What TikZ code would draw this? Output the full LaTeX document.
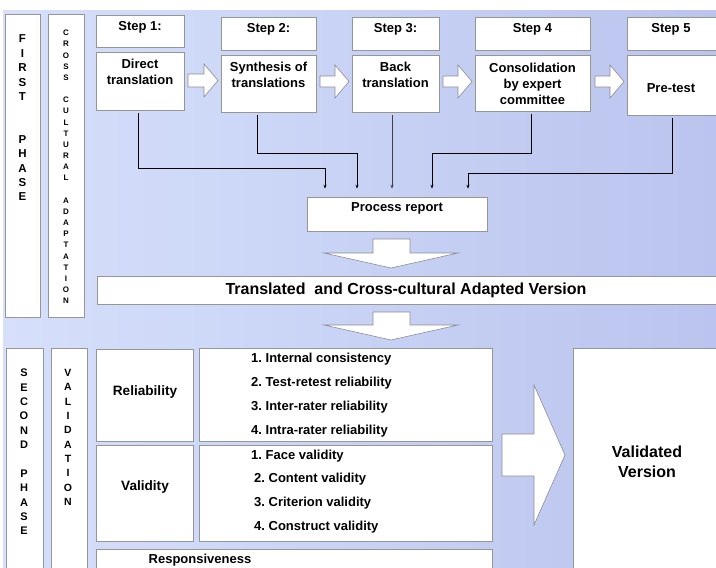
\documentclass[tikz,border=0pt]{standalone}
\usepackage{fontspec}
\setmainfont{Liberation Sans}
\frenchspacing
\usetikzlibrary{fit,arrows.meta}
\definecolor{bgL}{RGB}{214,224,251}
\definecolor{bgR}{RGB}{186,196,238}
\definecolor{boxgray}{RGB}{150,150,150}
\definecolor{arrgray}{RGB}{140,140,150}
\tikzset{
  box/.style={draw=boxgray, fill=white, line width=0.7pt, inner sep=0pt},
  txt/.style={font=\bfseries\fontsize{13}{16}\selectfont, align=center, inner sep=0pt},
  conn/.style={draw=black, line width=0.8pt, -{Stealth[length=4pt,width=3pt]}, shorten <=3pt, shorten >=8pt},
  barrow/.style={draw=arrgray, fill=white, line width=0.6pt, line join=miter}
}
\begin{document}
\begin{tikzpicture}[x=1pt,y=-1pt]
\useasboundingbox (0,0) rectangle (716,568);
\fill[white] (0,0) rectangle (716,568);
\shade[left color=bgL, right color=bgR] (3,10) rectangle (716,568);

% ---------- first phase ----------
\node[box, fit={(5,14) (40,317)}] (first) {};
\node[box, fit={(48,14) (84,317)}] (cross) {};
\node[box, fit={(96,15) (184,47)}] (step1) {};
\node[box, fit={(96,52) (184,110)}] (direct) {};
\node[box, fit={(221,17) (316,50)}] (step2) {};
\node[box, fit={(221,55) (316,112)}] (syn) {};
\node[box, fit={(352,17) (439,50)}] (step3) {};
\node[box, fit={(352,55) (439,112)}] (back) {};
\node[box, fit={(475,17) (590,50)}] (step4) {};
\node[box, fit={(475,55) (590,111)}] (cons) {};
\node[box, fit={(627,17) (722,50)}] (step5) {};
\node[box, fit={(627,55) (722,115)}] (pretest) {};
\node[box, fit={(307,197) (487,231)}] (report) {};
\node[box, fit={(97,276) (722,304)}] (transl) {};

\node[txt] at (140,27) {Step 1:};
\node[txt] at (268.5,29.5) {Step 2:};
\node[txt] at (395.5,29.5) {Step 3:};
\node[txt] at (532.5,29.5) {Step 4};
\node[txt] at (671,29.5) {Step 5};
\node[txt] at (140,71.5) {Direct\\translation};
\node[txt] at (268.5,75) {Synthesis of\\translations};
\node[txt] at (395.5,75) {Back\\translation};
\node[txt] at (532.5,83.5) {Consolidation\\by expert\\committee};
\node[txt] at (671,88.5) {Pre-test};
\node[txt] at (397,208.5) {Process report};
\node[txt, font=\bfseries\fontsize{16}{18}\selectfont] at (406,290) {Translated\ \ and Cross-cultural Adapted Version};

% block arrows (right)
\draw[barrow] (188,74) -- (204,74) -- (204,64) -- (218,80.5) -- (204,97) -- (204,87) -- (188,87) -- cycle;
\draw[barrow] (320,76) -- (335,76) -- (335,65) -- (349,81.5) -- (335,98) -- (335,87) -- (320,87) -- cycle;
\draw[barrow] (443,76) -- (458,76) -- (458,65) -- (472,81.5) -- (458,98) -- (458,87) -- (443,87) -- cycle;
\draw[barrow] (595,76) -- (610,76) -- (610,65) -- (624,81.5) -- (610,98) -- (610,87) -- (595,87) -- cycle;
% block arrows (down)
\draw[barrow] (373,239) -- (410,239) -- (410,253) -- (458,253) -- (391,268) -- (324,253) -- (373,253) -- cycle;
\draw[barrow] (373,312) -- (410,312) -- (410,325) -- (458,325) -- (391,340) -- (324,325) -- (373,325) -- cycle;

% connectors
\draw[conn] (direct.south -| 138,0) -- (138,168) -- (325,168) -- (report.north -| 325,0);
\draw[conn] (syn.south -| 257,0) -- (257,153) -- (357,153) -- (report.north -| 357,0);
\draw[conn, draw=black!75, line width=0.6pt] (back.south -| 392,0) -- (report.north -| 392,0);
\draw[conn] (cons.south -| 531,0) -- (531,153) -- (432,153) -- (report.north -| 432,0);
\draw[conn] (pretest.south -| 672,0) -- (672,173) -- (468,173) -- (report.north -| 468,0);

% ---------- second phase ----------
\node[box, fit={(6,348) (43,575)}] (second) {};
\node[box, fit={(51,348) (87,575)}] (valid) {};
\node[box, fit={(96,349) (193,441)}] (rel) {};
\node[box, fit={(96,445) (193,541)}] (val) {};
\node[box, fit={(199,348) (492,441)}] (items1) {};
\node[box, fit={(199,445) (492,541)}] (items2) {};
\node[box, fit={(96,549) (492,575)}] (resp) {};
\node[box, fit={(573,348) (722,575)}] (validated) {};
\draw[barrow] (502,434) -- (534,434) -- (534,385) -- (565,455) -- (534,525) -- (534,476) -- (502,476) -- cycle;

\node[txt, font=\bfseries\fontsize{13.6}{16}\selectfont] at (145,392) {Reliability};
\node[txt, font=\bfseries\fontsize{13.6}{16}\selectfont] at (145,487) {Validity};
\node[txt, anchor=west] at (251,359) {1. Internal consistency};
\node[txt, anchor=west] at (251,383) {2. Test-retest reliability};
\node[txt, anchor=west] at (251,407) {3. Inter-rater reliability};
\node[txt, anchor=west] at (251,431) {4. Intra-rater reliability};
\node[txt, anchor=west] at (251,456) {1. Face validity};
\node[txt, anchor=west] at (254,479) {2. Content validity};
\node[txt, anchor=west] at (254,503) {3. Criterion validity};
\node[txt, anchor=west] at (254,527) {4. Construct validity};
\node[txt] at (200,560) {Responsiveness};
\node[txt, font=\bfseries\fontsize{16}{20}\selectfont] at (647,462) {Validated\\Version};

% vertical letters
\node[txt, font=\bfseries\fontsize{11.5}{14.36}\selectfont] at (22.5,118) {F\\I\\R\\S\\T\\[28.72pt]P\\H\\A\\S\\E};
\node[txt, font=\bfseries\fontsize{8}{11.17}\selectfont] at (66,167) {C\\R\\O\\S\\S\\[11.17pt]C\\U\\L\\T\\U\\R\\A\\L\\[11.17pt]A\\D\\A\\P\\T\\A\\T\\I\\O\\N};
\node[txt, font=\bfseries\fontsize{11}{14.36}\selectfont] at (24,452) {S\\E\\C\\O\\N\\D\\[14.36pt]P\\H\\A\\S\\E};
\node[txt, font=\bfseries\fontsize{10.5}{14.33}\selectfont] at (68,437.5) {V\\A\\L\\I\\D\\A\\T\\I\\O\\N};
\end{tikzpicture}
\end{document}
